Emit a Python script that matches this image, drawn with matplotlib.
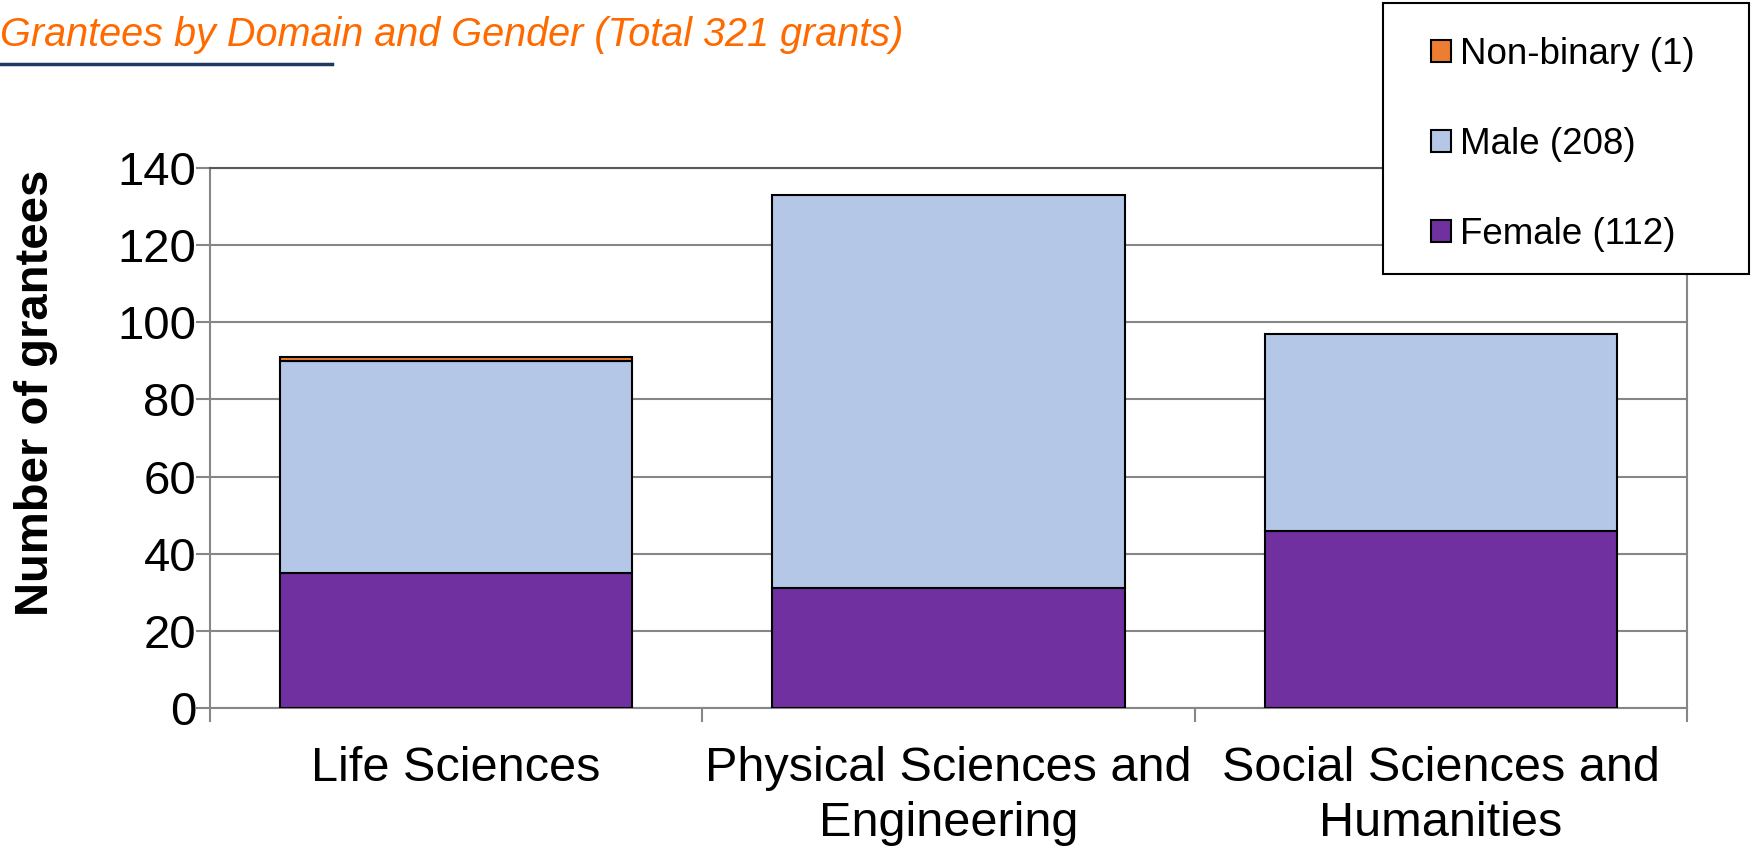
import numpy as np
import matplotlib.pyplot as plt
from matplotlib.lines import Line2D
from matplotlib.patches import Rectangle

plt.rcParams['font.family'] = ['Liberation Sans', 'DejaVu Sans']

domains = ['Life Sciences', 'Physical Sciences and\nEngineering', 'Social Sciences and\nHumanities']
female = [35, 31, 46]
male = [55, 102, 51]
nonbinary = [1, 0, 0]
legend_labels = ['Non-binary (1)', 'Male (208)', 'Female (112)']

c_female = '#7030A0'
c_male = '#B4C7E7'
c_nb = '#ED7D31'
grid_c = '#868686'

W, H = 1752, 846
fig = plt.figure(figsize=(W / 100, H / 100), dpi=100)
ax = fig.add_axes([210 / W, 1 - 708 / H, (1687 - 210) / W, (708 - 168) / H])

x = np.arange(len(domains))
w = 0.715
female = np.array(female)
male = np.array(male)
nonbinary = np.array(nonbinary)
b1 = ax.bar(x, female, w, color=c_female, edgecolor='black', linewidth=1.5, zorder=3)
b2 = ax.bar(x, male, w, bottom=female, color=c_male, edgecolor='black', linewidth=1.5, zorder=3)
nb_mask = nonbinary > 0
b3 = ax.bar(x[nb_mask], nonbinary[nb_mask], w, bottom=(female + male)[nb_mask],
            color=c_nb, edgecolor='black', linewidth=1.5, zorder=3)

ax.set_xlim(-0.5, 2.5)
ax.set_ylim(0, 140)
ax.set_yticks(np.arange(0, 141, 20))
ax.yaxis.grid(True, color=grid_c, linewidth=1.5, zorder=0)
ax.set_axisbelow(True)
for s in ax.spines.values():
    s.set_color(grid_c)
    s.set_linewidth(1.5)
ax.spines['top'].set_color('#595959')

# category boundary ticks on x axis
ax.set_xticks([-0.5, 0.5, 1.5, 2.5])
ax.set_xticklabels([])
ax.tick_params(axis='x', direction='out', length=10, width=1.5, color=grid_c)
ax.tick_params(axis='y', direction='out', length=10, width=1.5, color=grid_c,
               labelsize=34, pad=0)
for i, d in enumerate(domains):
    ax.text(i, -0.07, d, transform=ax.get_xaxis_transform(), ha='center', va='top',
            fontsize=35, linespacing=1.3)

ax.set_ylabel('Number of grantees', fontsize=34, fontweight='bold')
ax.yaxis.set_label_coords(-0.103, 0.583)

# title with underline
fig.text(0.0, 1 - 35 / H, 'Grantees by Domain and Gender (Total 321 grants)',
         fontsize=28.5, style='italic', color='#FF6A00', ha='left', va='center')
fig.add_artist(Line2D([0, 332 / W], [1 - 64 / H, 1 - 64 / H],
                      color='#1F3864', linewidth=2.5, transform=fig.transFigure))

# legend box drawn separately so its padding matches
fig.add_artist(Rectangle((1383 / W, 1 - 274 / H), (1749 - 1383) / W, (274 - 3) / H,
                         transform=fig.transFigure, facecolor='white',
                         edgecolor='black', linewidth=1.5, zorder=5))
handles = [b3, b2, b1]
leg = fig.legend(handles, legend_labels, loc='upper left',
                 bbox_to_anchor=(1431 / W, 1 - 37 / H), fontsize=26.5, frameon=False,
                 handlelength=0.55, handleheight=0.55, handletextpad=0.25,
                 labelspacing=1.5, borderpad=0, borderaxespad=0)
leg.set_zorder(6)

fig.savefig('out.png', dpi=100)
